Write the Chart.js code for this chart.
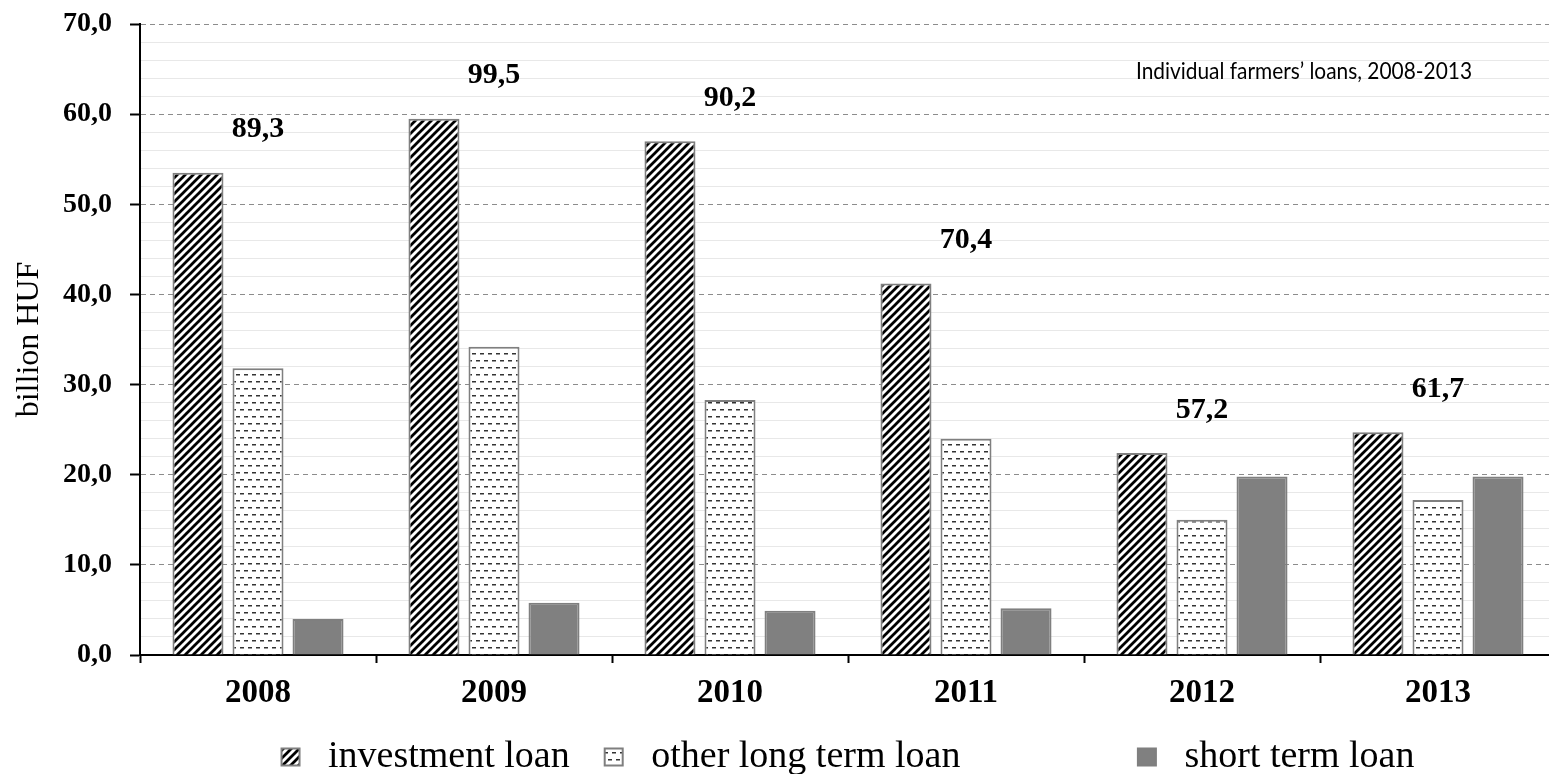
<!DOCTYPE html>
<html>
<head>
<meta charset="utf-8">
<title>Individual farmers' loans, 2008-2013</title>
<script src="https://cdn.jsdelivr.net/npm/chart.js@4.4.0/dist/chart.umd.min.js"></script>
<style>
  html, body { margin: 0; padding: 0; background: #fff; overflow: hidden; }
  #wrap { width: 1560px; height: 786px; }
</style>
</head>
<body>
<div id="wrap"><canvas id="loanChart" width="1560" height="786"></canvas></div>
<script>
// Individual farmers' loans by type, billion HUF
const years = ['2008', '2009', '2010', '2011', '2012', '2013'];
const investmentLoan = [53.5, 59.5, 57.0, 41.2, 22.4, 24.7];
const otherLongTermLoan = [31.8, 34.2, 28.3, 24.0, 15.0, 17.2];
const shortTermLoan = [4.0, 5.8, 4.9, 5.2, 19.8, 19.8];
const totals = [89.3, 99.5, 90.2, 70.4, 57.2, 61.7];
const yTicks = [0, 10, 20, 30, 40, 50, 60, 70];
const seriesNames = ['investment loan', 'other long term loan', 'short term loan'];
const chartTitle = 'Individual farmers\u2019 loans, 2008-2013';

const SERIF = '"Liberation Serif", "Times New Roman", serif';

// Format numbers the hungarian way: 10,0
function huNum(v) {
    return Number(v).toFixed(1).replace('.', ',');
}

// Diagonal hatch fill (////)
function hatchPattern(ctx) {
    const s = 8;
    const tile = document.createElement('canvas');
    tile.width = s; tile.height = s;
    const t = tile.getContext('2d');
    t.fillStyle = '#fff';
    t.fillRect(0, 0, s, s);
    t.strokeStyle = '#000';
    t.lineWidth = 2.8;
    t.beginPath();
    [0, s, 2 * s].forEach(c => {
        t.moveTo(-2, c + 2);
        t.lineTo(c + 2, -2);
    });
    t.stroke();
    return ctx.createPattern(tile, 'repeat');
}

// Short horizontal dashes fill
function dashPattern(ctx) {
    const tile = document.createElement('canvas');
    tile.width = 8; tile.height = 14;
    const t = tile.getContext('2d');
    t.fillStyle = '#fff';
    t.fillRect(0, 0, 8, 14);
    t.fillStyle = '#333';
    t.fillRect(0, 3, 4, 1.5);
    t.fillRect(4, 10, 4, 1.5);
    return ctx.createPattern(tile, 'repeat');
}

// Group totals above the bars + the inner title
const annotationsPlugin = {
    id: 'annotations',
    afterDatasetsDraw(chart) {
        const { ctx, chartArea, scales: { x, y } } = chart;
        ctx.save();
        ctx.fillStyle = '#000';
        ctx.textAlign = 'center';
        ctx.textBaseline = 'middle';
        ctx.font = 'bold 30px ' + SERIF;
        totals.forEach((t, i) => {
            const top = Math.max(investmentLoan[i], otherLongTermLoan[i], shortTermLoan[i]);
            ctx.fillText(huNum(t), x.getPixelForValue(i), y.getPixelForValue(top) - 43);
        });
        // calibri-ish look: slightly condensed sans
        ctx.translate(chartArea.right - 84, chartArea.top + 47);
        ctx.scale(0.87, 1);
        ctx.textAlign = 'right';
        ctx.font = '24px Lato, "Open Sans", sans-serif';
        ctx.fillText(chartTitle, 0, 0);
        ctx.restore();
    }
};

document.addEventListener('DOMContentLoaded', function() {
    const canvas = document.getElementById('loanChart');
    const ctx = canvas.getContext('2d');
    const borderGray = '#7f7f7f';

    new Chart(ctx, {
        type: 'bar',
        data: {
            labels: years,
            datasets: [{
                label: seriesNames[0],
                data: investmentLoan,
                backgroundColor: hatchPattern(ctx),
                borderColor: borderGray,
                borderWidth: 2,
                yAxisID: 'y'
            }, {
                label: seriesNames[1],
                data: otherLongTermLoan,
                backgroundColor: dashPattern(ctx),
                borderColor: borderGray,
                borderWidth: 2,
                yAxisID: 'y'
            }, {
                label: seriesNames[2],
                data: shortTermLoan,
                backgroundColor: '#808080',
                borderColor: borderGray,
                borderWidth: 2,
                yAxisID: 'y'
            }]
        },
        options: {
            responsive: false,
            animation: false,
            devicePixelRatio: 1,
            categoryPercentage: 0.763,
            barPercentage: 0.85,
            layout: {
                padding: { top: 24, right: 4, left: 0, bottom: 0 }
            },
            scales: {
                x: {
                    grid: {
                        display: true,
                        drawOnChartArea: false,
                        offset: true,
                        tickLength: 8,
                        tickColor: '#000',
                        tickWidth: 2
                    },
                    border: { color: '#000', width: 2 },
                    ticks: {
                        color: '#000',
                        padding: 11,
                        font: { family: SERIF, size: 33, weight: 'bold' }
                    },
                    afterFit: s => { s.height = 48; }
                },
                y: {
                    min: yTicks[0],
                    max: yTicks[yTicks.length - 1],
                    ticks: {
                        stepSize: yTicks[1] - yTicks[0],
                        color: '#000',
                        padding: 18,
                        font: { family: SERIF, size: 28, weight: 'bold' },
                        callback: v => huNum(v)
                    },
                    grid: {
                        color: '#8c8c8c',
                        lineWidth: 1,
                        tickColor: '#000',
                        tickWidth: 2,
                        tickLength: 10
                    },
                    border: { color: '#000', width: 2, dash: [5, 4] },
                    title: {
                        display: true,
                        text: 'billion HUF',
                        color: '#000',
                        padding: { top: 10, bottom: 0 },
                        font: { family: SERIF, size: 32 }
                    },
                    afterFit: s => {
                        s.width = 140;
                        s.paddingTop = 0;
                        s.paddingBottom = 0;
                    }
                },
                yMinor: {
                    position: 'left',
                    min: yTicks[0],
                    max: yTicks[yTicks.length - 1],
                    ticks: { display: false, stepSize: 2 },
                    grid: {
                        drawTicks: false,
                        color: c => (c.tick && c.tick.value % 10 === 0) ? 'rgba(0,0,0,0)' : '#e8e8e8'
                    },
                    border: { display: false },
                    afterFit: s => {
                        s.width = 0;
                        s.paddingTop = 0;
                        s.paddingBottom = 0;
                    }
                }
            },
            plugins: {
                tooltip: { enabled: false },
                legend: {
                    position: 'bottom',
                    fullSize: false,
                    labels: {
                        color: '#000',
                        boxWidth: 18,
                        boxHeight: 17,
                        padding: 35,
                        font: { family: SERIF, size: 38 },
                        generateLabels: function(chart) {
                            const items = Chart.defaults.plugins.legend.labels.generateLabels(chart);
                            items.forEach((it, i) => {
                                it.text = ' ' + it.text;
                                if (i === 1) it.text += ' '.repeat(15);
                            });
                            return items;
                        }
                    }
                }
            }
        },
        plugins: [annotationsPlugin]
    });
});
</script>
</body>
</html>
